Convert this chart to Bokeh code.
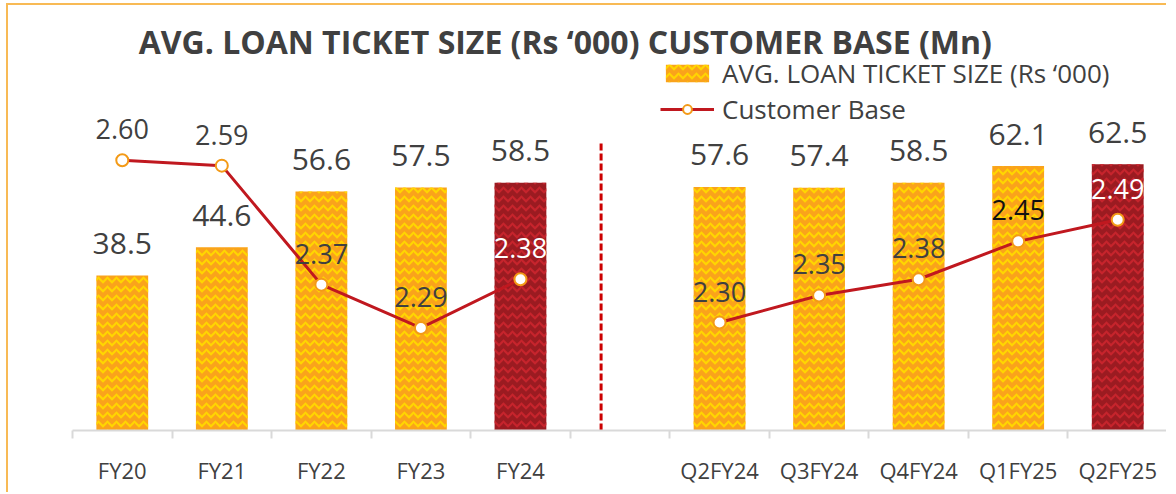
import math
from bokeh.plotting import figure
from bokeh.models import Range1d, FixedTicker, ColumnDataSource, Legend, LegendItem, Label
from bokeh.core.properties import value
from bokeh.embed import file_html
from bokeh.resources import INLINE

# ---- data ----
categories = ["FY20", "FY21", "FY22", "FY23", "FY24",
              "Q2FY24", "Q3FY24", "Q4FY24", "Q1FY25", "Q2FY25"]
ticket_size = [38.5, 44.6, 56.6, 57.5, 58.5, 57.6, 57.4, 58.5, 62.1, 62.5]
customer_base = [2.60, 2.59, 2.37, 2.29, 2.38, 2.30, 2.35, 2.38, 2.45, 2.49]
ticket_labels = ["38.5", "44.6", "56.6", "57.5", "58.5", "57.6", "57.4", "58.5", "62.1", "62.5"]
base_labels = ["2.60", "2.59", "2.37", "2.29", "2.38", "2.30", "2.35", "2.38", "2.45", "2.49"]
highlight = [False, False, False, False, True, False, False, False, False, True]

# ---- styles ----
FONT = "Open Sans"
ORANGE, YELLOW = "#FAA31B", "#FFD600"
DARK, DARK_HATCH = "#9B1B21", "#C7242C"
LINE = "#C0181F"
TXT = "#404040"
label_colors = ["white" if h else TXT for h in highlight]
label_colors[8] = "#111111"

gap_after = 4
xpos = [i if i <= gap_after else i + 1 for i in range(len(categories))]
n_slots = len(categories) + 1
boundaries = [b - 0.5 for b in range(n_slots + 1)]

src = ColumnDataSource(dict(
    x=xpos, cat=categories, ts=ticket_size, cb=customer_base,
    tsl=ticket_labels, cbl=base_labels,
    fill=[DARK if h else ORANGE for h in highlight],
    hatch=[DARK_HATCH if h else YELLOW for h in highlight],
    lc=label_colors,
))
# line broken at the gap between yearly and quarterly data
line_x = xpos[:gap_after + 1] + [math.nan] + xpos[gap_after + 1:]
line_y = customer_base[:gap_after + 1] + [math.nan] + customer_base[gap_after + 1:]

W, H = 1160, 489
Y0, Y1 = 5.1, 96.7
p = figure(width=W, height=H, output_backend="svg", toolbar_location=None,
           x_range=Range1d(-0.5, n_slots - 0.5),
           y_range=Range1d(Y0, Y1),
           y_axis_location=None,
           min_border_left=64, min_border_right=1, min_border_top=0, min_border_bottom=64)
p.extra_y_ranges = {"cb": Range1d(2.1004, 2.886)}
p.outline_line_color = None
p.grid.visible = False
p.background_fill_color = "white"
p.border_fill_color = "white"
p.styles = {"margin-left": "6px", "margin-top": "3px",
            "border-left": "2px solid #F8BA55", "border-top": "2px solid #F8BA55"}

bars = p.vbar(x="x", top="ts", bottom=0, width=0.52, source=src,
              fill_color="fill", line_color=None,
              hatch_pattern="horizontal_wave", hatch_color="hatch",
              hatch_scale=9, hatch_weight=2)

# divider between yearly and quarterly blocks
gap_x = gap_after + 1 - 0.19
p.segment(x0=[gap_x], x1=[gap_x], y0=[Y0], y1=[67.0],
          line_color="#CC0000", line_width=3, line_dash="7 3")

line_r = p.line(x=line_x, y=line_y, y_range_name="cb",
                line_color=LINE, line_width=3)
mk = p.scatter(x="x", y="cb", source=src, y_range_name="cb", size=12,
               fill_color="white", line_color="#F39A17", line_width=2)

p.text(x="x", y="ts", text="tsl", source=src, text_align="center",
       text_baseline="middle", y_offset=-32, text_color=TXT,
       text_font=value(FONT), text_font_size="30px")
p.text(x="x", y="cb", text="cbl", source=src, y_range_name="cb",
       text_align="center", text_baseline="middle", y_offset=-31,
       text_color="lc", text_font=value(FONT), text_font_size="27px")

# axis
ax = p.xaxis[0]
ax.ticker = FixedTicker(ticks=xpos, minor_ticks=boundaries)
ax.major_label_overrides = {c: lab for c, lab in zip(xpos, categories)}
ax.major_tick_out = 0
ax.major_tick_in = 0
ax.minor_tick_out = 8
ax.minor_tick_in = 0
ax.minor_tick_line_color = "#D9D9D9"
ax.minor_tick_line_width = 2
ax.axis_line_color = "#D9D9D9"
ax.axis_line_width = 2
ax.axis_label_standoff = 0
ax.major_label_text_font = FONT
ax.major_label_text_font_size = "22px"
ax.major_label_text_color = TXT
ax.major_label_standoff = 16

# title
p.add_layout(Label(x=4.45, y=88.9, text="AVG. LOAN TICKET SIZE (Rs \u2018000) CUSTOMER BASE (Mn)",
                   text_align="center", text_baseline="middle",
                   text_font=FONT, text_font_style="bold", text_font_size="32px",
                   text_color=TXT))

legend = Legend(items=[
    LegendItem(label="AVG. LOAN TICKET SIZE (Rs \u2018000)", renderers=[bars], index=0),
    LegendItem(label="Customer Base", renderers=[line_r, mk]),
], location=(588, 303), orientation="vertical")
legend.background_fill_alpha = 0
legend.border_line_color = None
legend.padding = 0
legend.margin = 0
legend.spacing = -4
legend.glyph_width = 54
legend.glyph_height = 22
legend.label_standoff = 8
legend.label_text_font = FONT
legend.label_text_font_size = "26px"
legend.label_text_color = TXT
p.add_layout(legend)

open("out.html", "w").write(file_html(p, INLINE))
